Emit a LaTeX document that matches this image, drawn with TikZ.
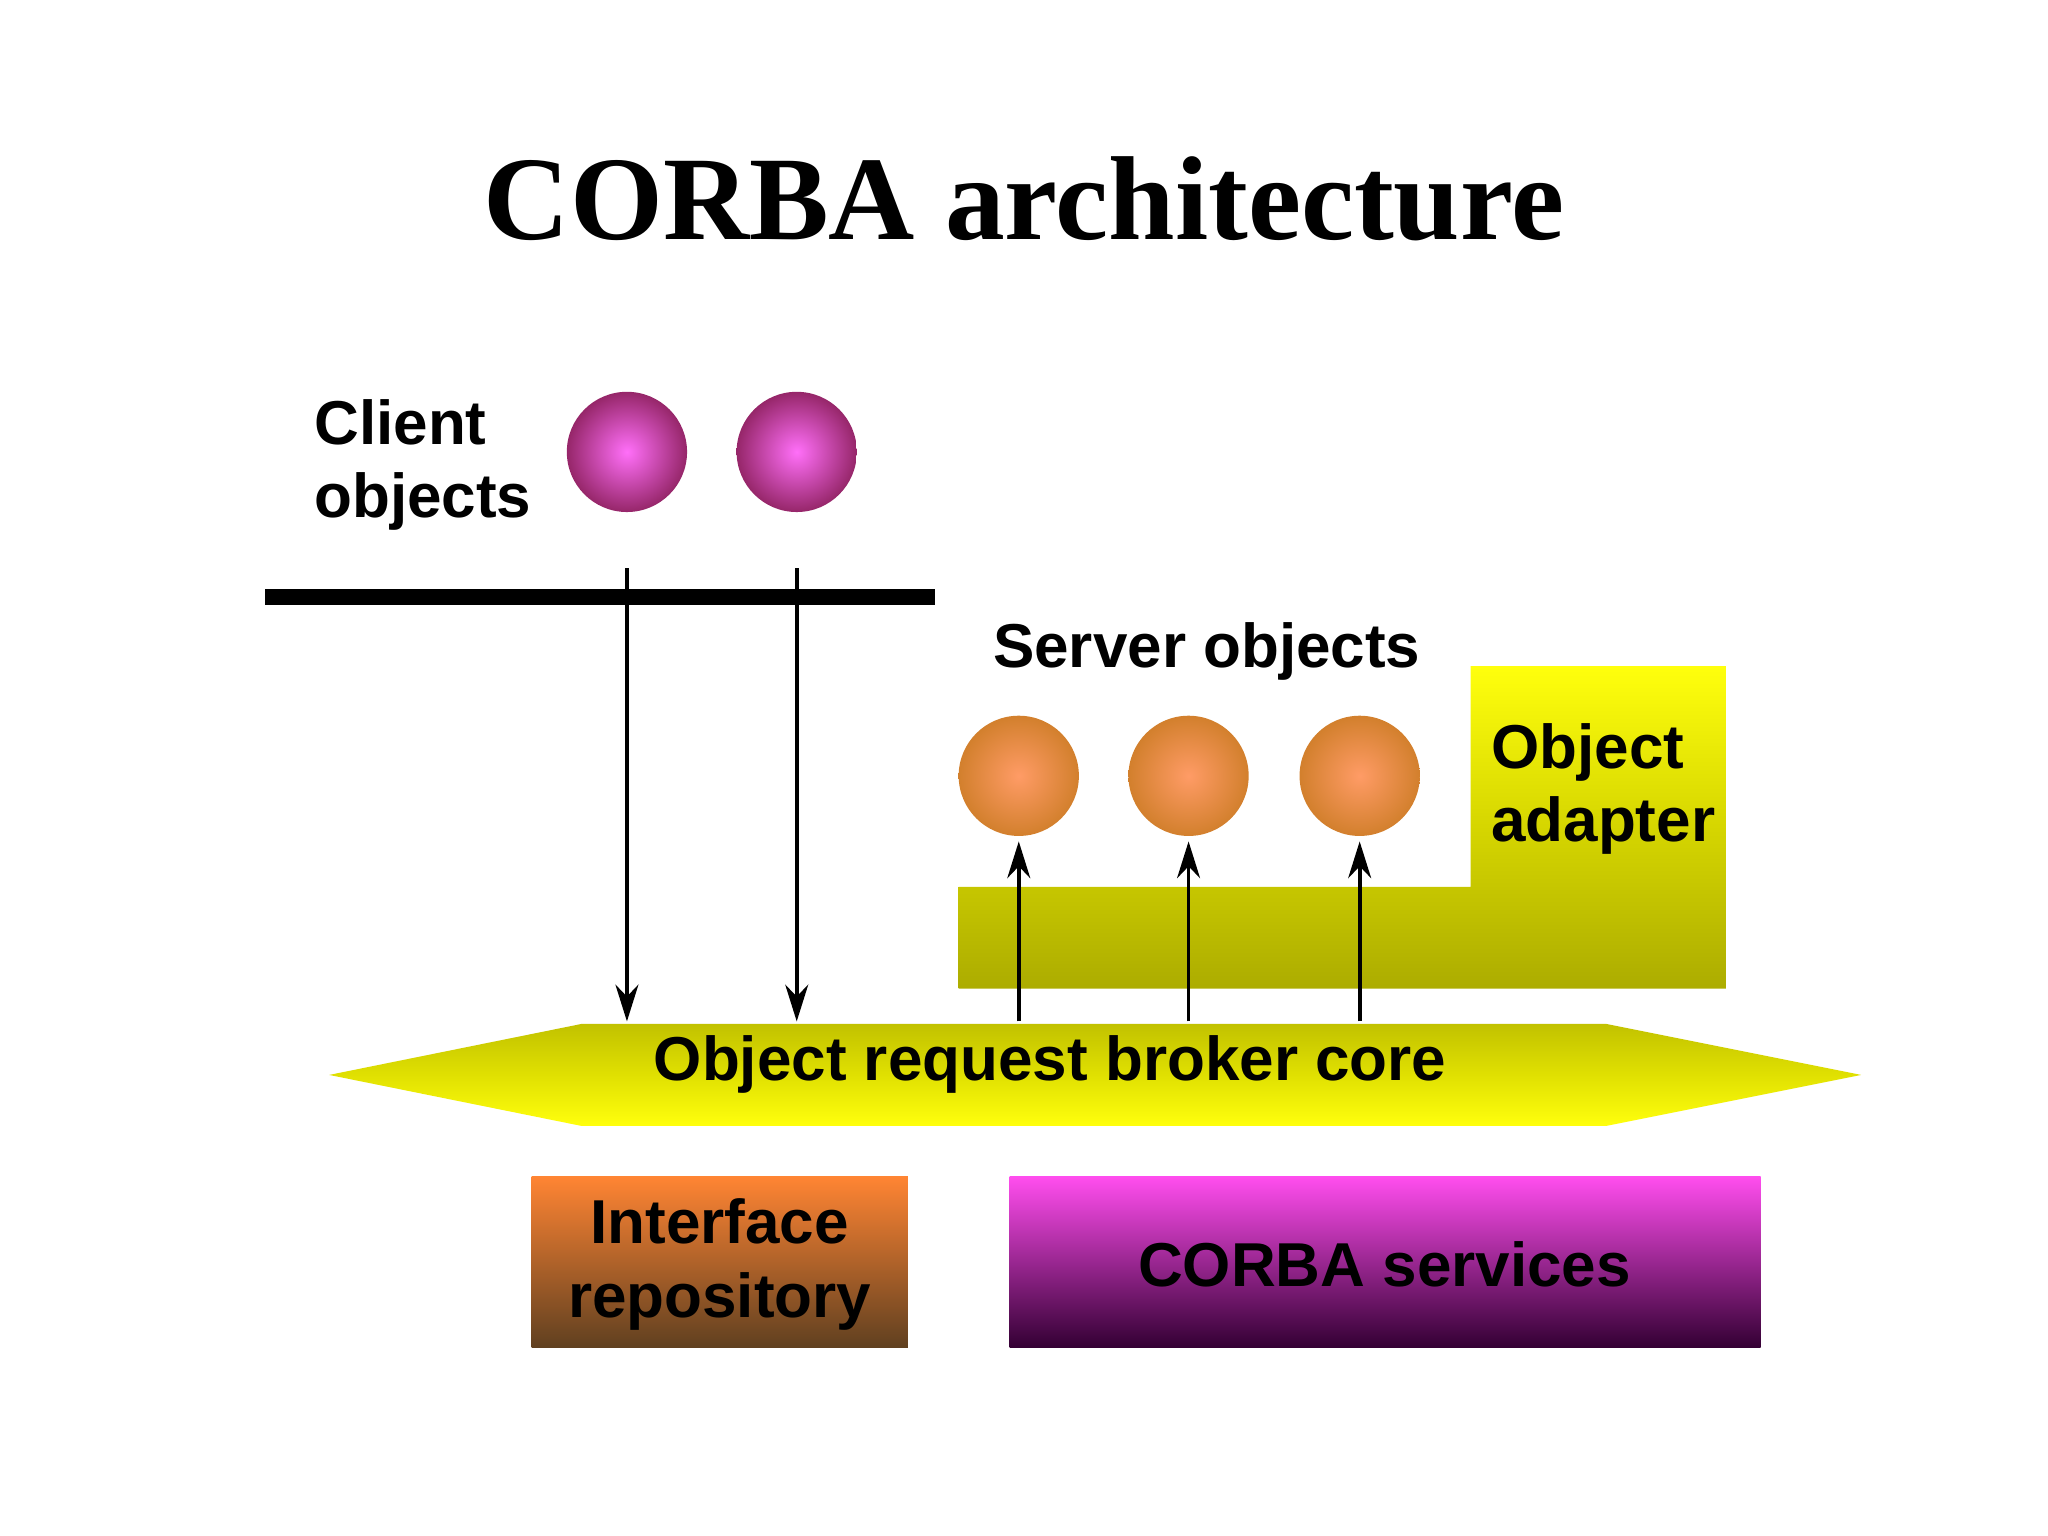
\documentclass[tikz,border=0pt]{standalone}
\usepackage{fontspec}
\setmainfont{Liberation Sans}
\newfontfamily\titlefont{Liberation Serif}
\usetikzlibrary{arrows.meta}
\begin{document}
\begin{tikzpicture}[x=0.01cm,y=-0.01cm,
  lbl/.style={font=\bfseries\fontsize{13.5}{16}\selectfont,align=left,inner sep=0},
  cball/.style={circle,minimum size=0.92cm,inner sep=0,inner color=magenta!60!white!90!pink,outer color=violet!50!purple!70!gray},
  sball/.style={circle,minimum size=0.92cm,inner sep=0,inner color=orange!70!red!60!white,outer color=brown!70!orange},
  arr/.style={-{Stealth[length=8pt,width=5pt]},line width=0.8pt}]
\useasboundingbox (0,0) rectangle (1568,1176);
\node[font=\titlefont\bfseries\fontsize{26}{30}\selectfont] (title) at (784,152) {CORBA architecture};
\node[lbl,anchor=west] (cl) at (240,356) {Client\\objects};
\node[cball] (c1) at (480,346) {};
\node[cball] (c2) at (610,346) {};
\draw[line width=3.5pt] (203,457) -- (716,457);
\node[lbl] (so) at (924,499) {Server objects};
\path[top color=yellow!95!white,bottom color=yellow!50!olive!90!black] (734,679) -- (1126,679) -- (1126,510) -- (1322,510) -- (1322,757) -- (734,757) -- cycle;
\node[lbl,anchor=west] (oa) at (1141,604) {Object\\adapter};
\node[sball] (s1) at (780,594) {};
\node[sball] (s2) at (910,594) {};
\node[sball] (s3) at (1041,594) {};
\path[top color=yellow!90!olive!80!black,bottom color=yellow!95!white] (252,823) -- (445,784) -- (1230,784) -- (1425,823) -- (1230,862) -- (445,862) -- cycle;
\node[lbl] (orb) at (804,815) {Object request broker core};
\coordinate (a1) at (480,782); \coordinate (a2) at (610,782);
\coordinate (b1) at (780,782); \coordinate (b2) at (910,782); \coordinate (b3) at (1041,782);
\draw[arr] ([yshift=-12pt]c1.south) -- (a1);
\draw[arr] ([yshift=-12pt]c2.south) -- (a2);
\draw[arr] (b1) -- ([yshift=-1pt]s1.south);
\draw[arr] (b2) -- ([yshift=-1pt]s2.south);
\draw[arr] (b3) -- ([yshift=-1pt]s3.south);
\path[top color=orange!80!red!80!white,bottom color=brown!50!black] (407,901) rectangle (695,1032);
\node[lbl,align=center] (ir) at (551,968) {Interface\\repository};
\path[top color=magenta!70!pink!90!white,bottom color=violet!40!black] (773,901) rectangle (1348,1032);
\node[lbl] (cs) at (1060,968) {CORBA services};
\end{tikzpicture}
\end{document}
